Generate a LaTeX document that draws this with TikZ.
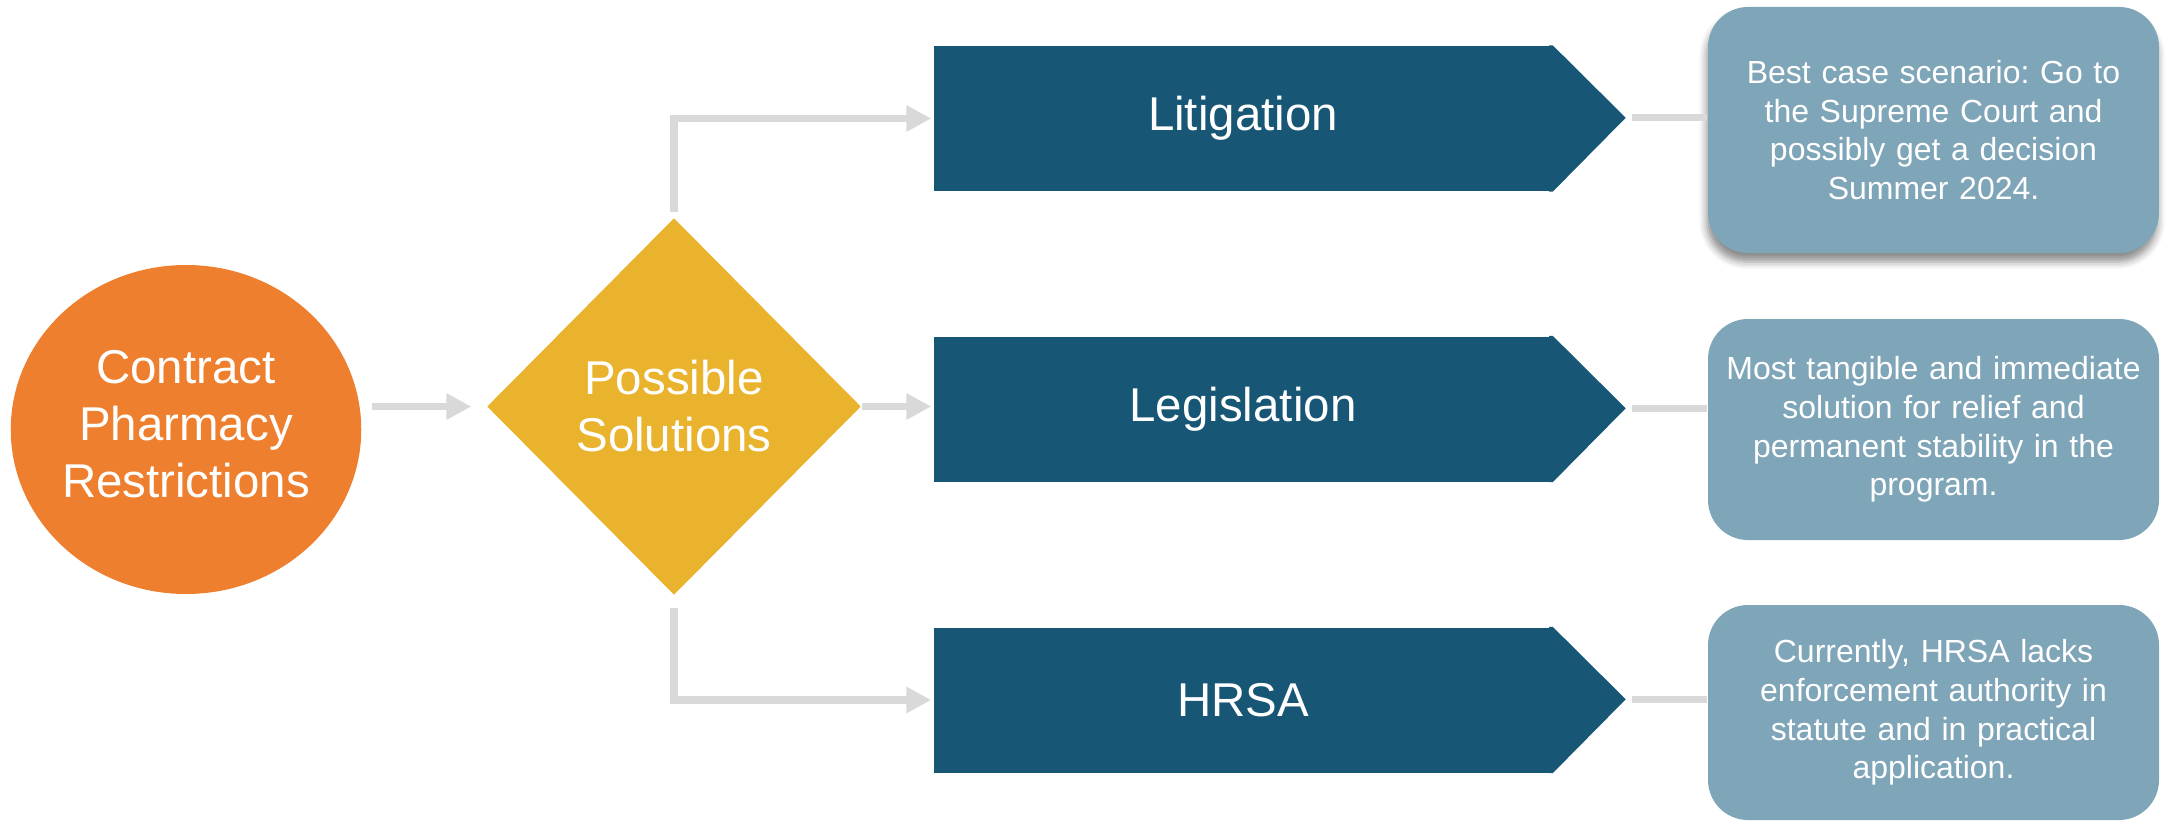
\documentclass[tikz,border=0pt]{standalone}
\usepackage{fontspec}
\setmainfont{Liberation Sans}
\usetikzlibrary{arrows.meta,positioning,shapes.geometric,shadows.blur}

\definecolor{issueorange}{HTML}{EE7F2E}
\definecolor{choicegold}{HTML}{EAB32D}
\definecolor{routeblue}{HTML}{175675}
\definecolor{notegray}{HTML}{7FA5B8}
\definecolor{linkgray}{HTML}{D9D9D9}

\frenchspacing

\begin{document}
\begin{tikzpicture}[
    line join=miter,
    bigtext/.style={font=\fontsize{13.5}{16.2}\selectfont, text=white, align=center},
    flow/.style={linkgray, line width=2.1pt,
      -{Triangle[length=2.5mm, width=2.5mm]}},
    link/.style={linkgray, line width=2.1pt},
    route/.style={bigtext, fill=routeblue, minimum width=6.18cm,
      minimum height=1.45cm, inner sep=0pt},
    note/.style={fill=notegray, rounded corners=0.4cm, text=white,
      text width=4.3cm, align=center, minimum width=4.51cm, inner sep=0pt,
      font=\fontsize{9.1}{11}\selectfont}
  ]

% fixed page frame
\useasboundingbox (0,0) rectangle (21.71,8.22);

% width of the chevron points
\def\tipw{0.73}

% ============================================================
% START: issue and decision
% ============================================================
\node[bigtext, ellipse, fill=issueorange, inner sep=0pt,
  minimum width=3.44cm, minimum height=3.29cm]
  (pharm) at (1.86,3.925) {\raisebox{0.09cm}{\begin{tabular}{@{}c@{}}Contract\\Pharmacy\\Restrictions\end{tabular}}};

\node[bigtext, diamond, fill=choicegold, inner sep=0pt,
  minimum width=3.74cm, minimum height=3.77cm]
  (solut) at (6.74,4.155) {Possible\\Solutions};

\draw[flow, shorten <=1mm, shorten >=1.5mm]
  (pharm.east |- solut.west) -- (solut.west);

% ============================================================
% ROUTES: three chevrons
% ============================================================
\node[route] (litig) at (12.43,7.035) {Litigation};
\fill[routeblue] ([xshift=-1pt]litig.north east) -- (litig.north east)
  -- ++(\tipw,-0.725) coordinate (litigtip) -- (litig.south east)
  -- ([xshift=-1pt]litig.south east) -- cycle;

\node[route] (legis) at (12.43,4.13) {Legislation};
\fill[routeblue] ([xshift=-1pt]legis.north east) -- (legis.north east)
  -- ++(\tipw,-0.725) coordinate (legistip) -- (legis.south east)
  -- ([xshift=-1pt]legis.south east) -- cycle;

\node[route] (hrsa) at (12.43,1.22) {HRSA};
\fill[routeblue] ([xshift=-1pt]hrsa.north east) -- (hrsa.north east)
  -- ++(\tipw,-0.725) coordinate (hrsatip) -- (hrsa.south east)
  -- ([xshift=-1pt]hrsa.south east) -- cycle;

% branches out of the diamond
\draw[flow, shorten <=0.5mm, shorten >=0.2mm]
  (solut.north) -- (solut.north |- litig.west) -- (litig.west);
\draw[flow, shorten >=0.2mm] (solut.east) -- (solut.east -| legis.west);
\draw[flow, shorten <=1.2mm, shorten >=0.2mm]
  (solut.south) -- (solut.south |- hrsa.west) -- (hrsa.west);

% ============================================================
% NOTES: outlook for each route
% ============================================================
\node[note, minimum height=2.46cm,
  blur shadow={shadow xshift=-0.4pt, shadow yshift=-2.5pt, shadow opacity=45}]
  (litnote) at (19.335,6.92)
  {Best case scenario: Go to\\the Supreme Court and\\possibly get a decision\\Summer 2024.};

\node[note, minimum height=2.21cm] (legnote) at (19.335,3.925)
  {Most tangible and immediate\\solution for relief and\\permanent stability in the\\program.};

\node[note, minimum height=2.15cm] (hrsanote) at (19.335,1.095)
  {Currently, HRSA lacks\\enforcement authority in\\statute and in practical\\application.};

\draw[link, shorten <=0.6mm] (litigtip) -- (litnote.west |- litigtip);
\draw[link, shorten <=0.6mm] (legistip) -- (legnote.west |- legistip);
\draw[link, shorten <=0.6mm] (hrsatip) -- (hrsanote.west |- hrsatip);

\end{tikzpicture}
\end{document}
